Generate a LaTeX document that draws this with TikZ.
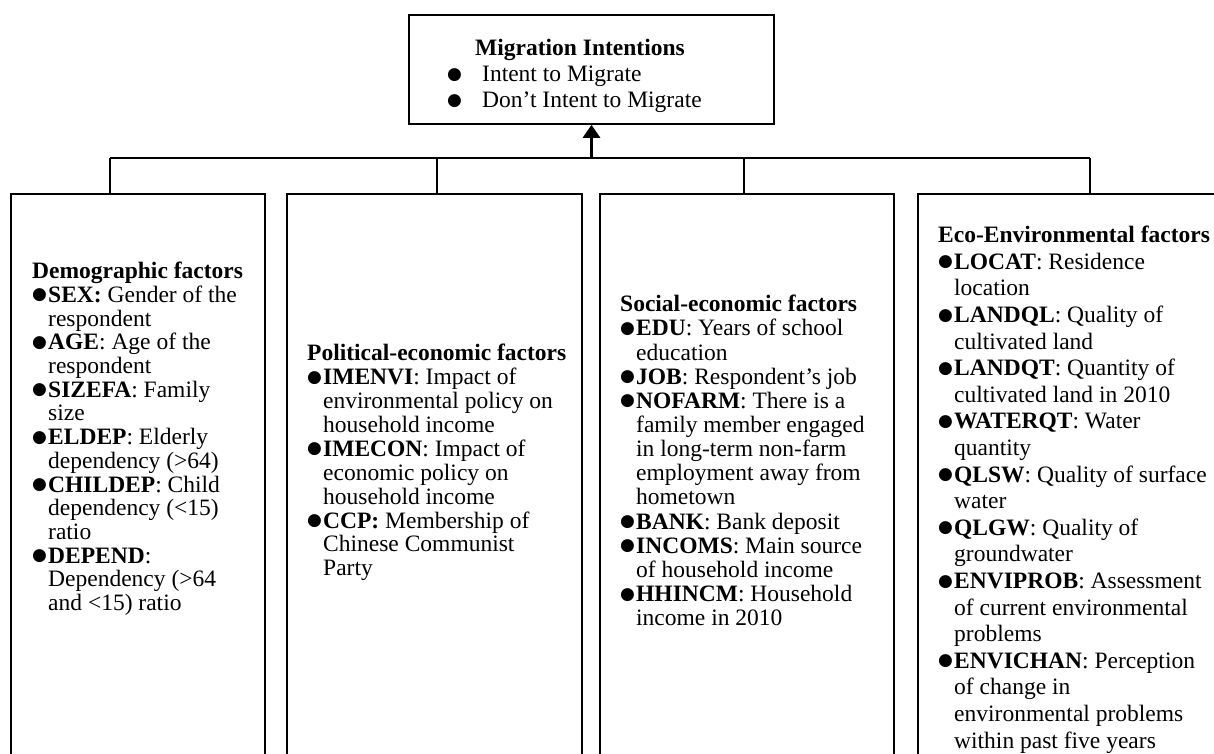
\documentclass[tikz,border=0pt]{standalone}
\usepackage{fontspec}
\setmainfont{Liberation Serif}
\newfontfamily\symf{DejaVu Sans}
\usetikzlibrary{arrows.meta}
\newcommand\bl{\makebox[16pt][l]{\raisebox{2.5pt}{\symf\fontsize{17}{17}\selectfont ●}}}
\newcommand\mbl{\makebox[35pt][l]{\raisebox{2.5pt}{\symf\fontsize{17}{17}\selectfont ●}}}
\newcommand\ind{\hspace*{16pt}}
\tikzset{
  fbox/.style={draw, line width=1.6pt, rectangle, inner sep=0pt},
  lst/.style={anchor=north west, inner sep=0pt, align=left, font=\fontsize{23.5}{#1}\selectfont},
  bus/.style={line width=2.4pt},
}
\begin{document}
\begin{tikzpicture}[x=1pt,y=-1pt]
\useasboundingbox (0,0) rectangle (1214,754);
\clip (0,0) rectangle (1214,754);
\fill[white] (0,0) rectangle (1214,754);

% top box
\node[fbox, minimum width=365pt, minimum height=109pt] (mi) at (591.5,69.5) {};
\node[lst=26] (mt) at (447,39) {\hspace*{28pt}\textbf{Migration Intentions}\\\mbl Intent to Migrate\\\mbl Don’t Intent to Migrate};

% factor boxes
\node[fbox, minimum width=254pt, minimum height=586pt] (b1) at (138,487) {};
\node[fbox, minimum width=295pt, minimum height=586pt] (b2) at (434.5,487) {};
\node[fbox, minimum width=294pt, minimum height=586pt] (b3) at (747,487) {};
\node[fbox, minimum width=312pt, minimum height=586pt] (b4) at (1074,487) {};

\node[lst=23.7] (t1) at (32,262) {\textbf{Demographic factors}\\
\bl\textbf{SEX:} Gender of the\\
\ind respondent\\
\bl\textbf{AGE}: Age of the\\
\ind respondent\\
\bl\textbf{SIZEFA}: Family\\
\ind size\\
\bl\textbf{ELDEP}: Elderly\\
\ind dependency (>64)\\
\bl\textbf{CHILDEP}: Child\\
\ind dependency (<15)\\
\ind ratio\\
\bl\textbf{DEPEND}:\\
\ind Dependency (>64\\
\ind and <15) ratio};

\node[lst=23.9] (t2) at (307,344) {\textbf{Political-economic factors}\\
\bl\textbf{IMENVI}: Impact of\\
\ind environmental policy on\\
\ind household income\\
\bl\textbf{IMECON}: Impact of\\
\ind economic policy on\\
\ind household income\\
\bl\textbf{CCP:} Membership of\\
\ind Chinese Communist\\
\ind Party};

\node[lst=24.15] (t3) at (620,295) {\textbf{Social-economic factors}\\
\bl\textbf{EDU}: Years of school\\
\ind education\\
\bl\textbf{JOB}: Respondent’s job\\
\bl\textbf{NOFARM}: There is a\\
\ind family member engaged\\
\ind in long-term non-farm\\
\ind employment away from\\
\ind hometown\\
\bl\textbf{BANK}: Bank deposit\\
\bl\textbf{INCOMS}: Main source\\
\ind of household income\\
\bl\textbf{HHINCM}: Household\\
\ind income in 2010};

\node[lst=26.6] (t4) at (938,226) {\textbf{Eco-Environmental factors}\\
\bl\textbf{LOCAT}: Residence\\
\ind location\\
\bl\textbf{LANDQL}: Quality of\\
\ind cultivated land\\
\bl\textbf{LANDQT}: Quantity of\\
\ind cultivated land in 2010\\
\bl\textbf{WATERQT}: Water\\
\ind quantity\\
\bl\textbf{QLSW}: Quality of surface\\
\ind water\\
\bl\textbf{QLGW}: Quality of\\
\ind groundwater\\
\bl\textbf{ENVIPROB}: Assessment\\
\ind of current environmental\\
\ind problems\\
\bl\textbf{ENVICHAN}: Perception\\
\ind of change in\\
\ind environmental problems\\
\ind within past five years};

% connectors
\coordinate (j1) at (110,158);
\coordinate (j2) at (437,158);
\coordinate (j3) at (744,158);
\coordinate (j4) at (1090,158);
\coordinate (j0) at (mi.south |- j1);
\draw[bus] (j1) -- (j4);
\foreach \j/\b in {j1/b1,j2/b2,j3/b3,j4/b4}
  \draw[bus] (\j) -- (\j |- \b.north);
\draw[line width=2.8pt, -{Triangle[width=17pt,length=13pt]}] (j0) -- (mi.south);
\end{tikzpicture}
\end{document}
